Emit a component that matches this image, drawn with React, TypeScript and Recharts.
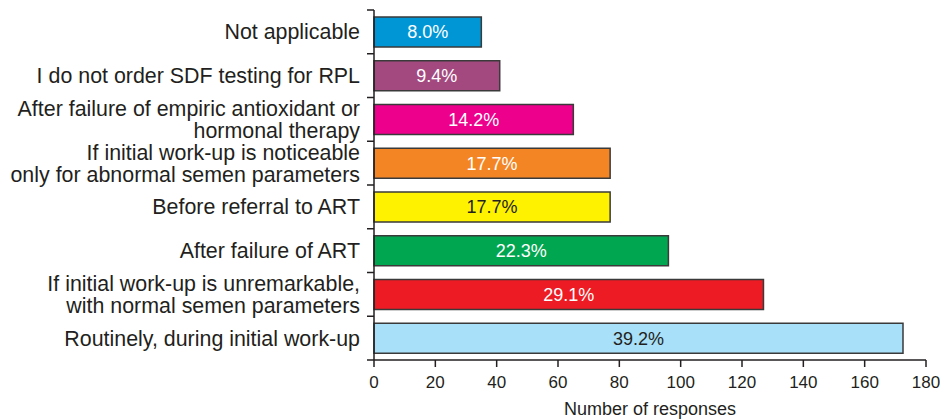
import React from "react";
import { BarChart, Bar, XAxis, YAxis, Cell, LabelList } from "recharts";

const categories = [
  "Not applicable",
  "I do not order SDF testing for RPL",
  "After failure of empiric antioxidant or\nhormonal therapy",
  "If initial work-up is noticeable\nonly for abnormal semen parameters",
  "Before referral to ART",
  "After failure of ART",
  "If initial work-up is unremarkable,\nwith normal semen parameters",
  "Routinely, during initial work-up",
];
const responses = [35, 41, 65, 77, 77, 96, 127, 172.5];
const percentLabels = ["8.0%", "9.4%", "14.2%", "17.7%", "17.7%", "22.3%", "29.1%", "39.2%"];
const xTicks = [0, 20, 40, 60, 80, 100, 120, 140, 160, 180];

const barColors = ["#0096D6", "#A4497F", "#EC008C", "#F48524", "#FFF200", "#00A650", "#ED1C24", "#A8E0F9"];
const labelColors = ["#ffffff", "#ffffff", "#ffffff", "#ffffff", "#231F20", "#ffffff", "#ffffff", "#231F20"];

const data = categories.map((c, i) => ({ category: c, responses: responses[i], pct: percentLabels[i] }));

const W = 940;
const H = 419;
const M = { top: 10, right: 14, bottom: 0, left: 0 };
const X_AXIS_H = 59;
const Y_AXIS_W = 374;
const FONT = "'Liberation Sans', Arial, Helvetica, sans-serif";
const INK = "#231F20";
const band = (H - M.top - M.bottom - X_AXIS_H) / categories.length;

function YTick(props: any) {
  const { x, y, payload, index } = props;
  const lines = String(payload.value).split("\n");
  const axisX = x + 14;
  const lh = 22;
  const start = -((lines.length - 1) * lh) / 2;
  return (
    <g>
      <line x1={axisX - 7} x2={axisX} y1={y - band / 2} y2={y - band / 2} stroke={INK} strokeWidth={1.5} />
      {index === categories.length - 1 && (
        <line x1={axisX - 7} x2={axisX} y1={y + band / 2} y2={y + band / 2} stroke={INK} strokeWidth={1.5} />
      )}
      <text x={x} y={y} textAnchor="end" fontSize={21.4} fill={INK} fontFamily={FONT}>
        {lines.map((l, i) => (
          <tspan key={i} x={x} y={y + start + i * lh} dy="0.355em">
            {l}
          </tspan>
        ))}
      </text>
    </g>
  );
}

function BarLabel(props: any) {
  const { x, y, width, height, value, index } = props;
  return (
    <text
      x={x + width / 2}
      y={y + height / 2}
      dy="0.355em"
      textAnchor="middle"
      fontSize={18}
      fontFamily={FONT}
      fill={labelColors[index]}
    >
      {value}
    </text>
  );
}

export default function App() {
  return (
    <div style={{ position: "fixed", top: 0, left: 0, width: W, height: H, background: "#fff" }}>
      <BarChart width={W} height={H} data={data} layout="vertical" margin={M}>
        <XAxis
          type="number"
          domain={[0, 180]}
          ticks={xTicks}
          interval={0}
          height={X_AXIS_H}
          tickSize={7}
          tickMargin={9}
          tick={{ fontSize: 17, fill: INK, fontFamily: FONT }}
          tickLine={{ stroke: INK, strokeWidth: 1.5 }}
          axisLine={{ stroke: INK, strokeWidth: 1.5 }}
          label={{ value: "Number of responses", position: "insideBottom", offset: 4, fontSize: 18, fill: INK, fontFamily: FONT }}
        />
        <YAxis
          type="category"
          dataKey="category"
          width={Y_AXIS_W}
          interval={0}
          tickSize={7}
          tickMargin={7}
          tickLine={false}
          tick={<YTick />}
          axisLine={{ stroke: INK, strokeWidth: 1.5 }}
        />
        <Bar dataKey="responses" barSize={30} isAnimationActive={false}>
          {data.map((_, i) => (
            <Cell key={i} fill={barColors[i]} stroke="#3a3a3a" strokeWidth={1.5} />
          ))}
          <LabelList dataKey="pct" content={<BarLabel />} />
        </Bar>
      </BarChart>
    </div>
  );
}
